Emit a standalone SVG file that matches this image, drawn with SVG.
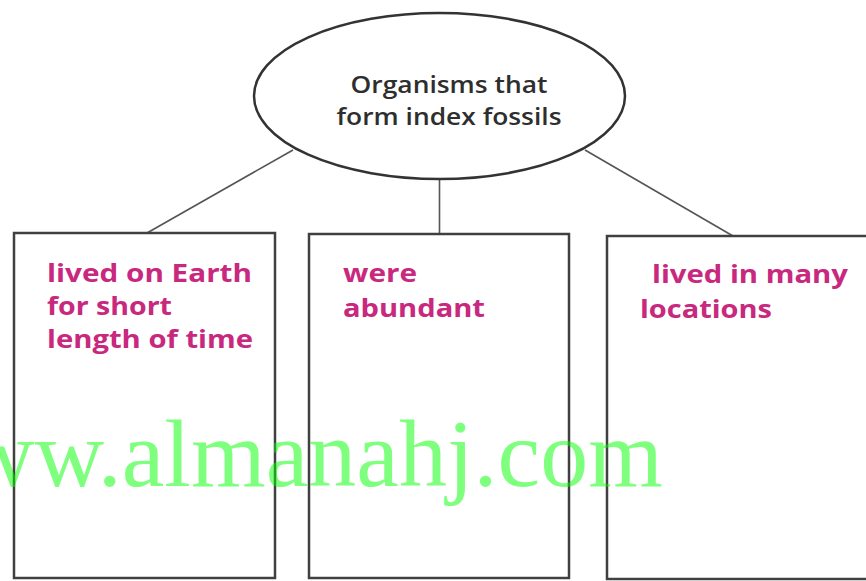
<svg xmlns="http://www.w3.org/2000/svg" width="866" height="581" viewBox="0 0 866 581">
<style>
.box{fill:#fff;stroke:#404040;stroke-width:2.5}
.conn{stroke:#555;stroke-width:1.6;fill:none}
.title{font-family:"Open Sans","Liberation Sans",sans-serif;font-weight:600;font-size:24px;fill:#2e2e2e;text-anchor:middle}
.pink{font-family:"Open Sans","Liberation Sans",sans-serif;font-weight:700;font-size:25px;fill:#c8287e}
.wm{font-family:"Liberation Serif","Times New Roman",serif;font-size:96px;fill:#00ff00;opacity:0.5}
</style>
<rect width="866" height="581" fill="#fff"/>
<g id="connectors">
<line class="conn" x1="293" y1="150" x2="147" y2="233"/>
<line class="conn" x1="439.5" y1="179" x2="439.5" y2="234"/>
<line class="conn" x1="585" y1="150" x2="733" y2="236"/>
</g>
<g id="root">
<ellipse cx="439.5" cy="96" rx="185.5" ry="83" fill="#fff" stroke="#333" stroke-width="2.5"/>
<text class="title" x="449" y="93" textLength="197" lengthAdjust="spacingAndGlyphs">Organisms that</text>
<text class="title" x="449" y="125" textLength="225" lengthAdjust="spacingAndGlyphs">form index fossils</text>
</g>
<g id="box1">
<rect class="box" x="14" y="233" width="261" height="345"/>
<text class="pink" x="47" y="282" textLength="205" lengthAdjust="spacingAndGlyphs">lived on Earth</text>
<text class="pink" x="47" y="315" textLength="125" lengthAdjust="spacingAndGlyphs">for short</text>
<text class="pink" x="47" y="348" textLength="206" lengthAdjust="spacingAndGlyphs">length of time</text>
</g>
<g id="box2">
<rect class="box" x="309" y="234" width="260" height="344"/>
<text class="pink" x="343" y="282" textLength="74" lengthAdjust="spacingAndGlyphs">were</text>
<text class="pink" x="343" y="317" textLength="142" lengthAdjust="spacingAndGlyphs">abundant</text>
</g>
<g id="box3">
<rect class="box" x="607" y="236" width="280" height="343"/>
<text class="pink" x="652" y="283" textLength="196" lengthAdjust="spacingAndGlyphs">lived in many</text>
<text class="pink" x="640" y="318" textLength="132" lengthAdjust="spacingAndGlyphs">locations</text>
</g>
<text class="wm" x="-104" y="486">www.almanahj.com</text>
</svg>
